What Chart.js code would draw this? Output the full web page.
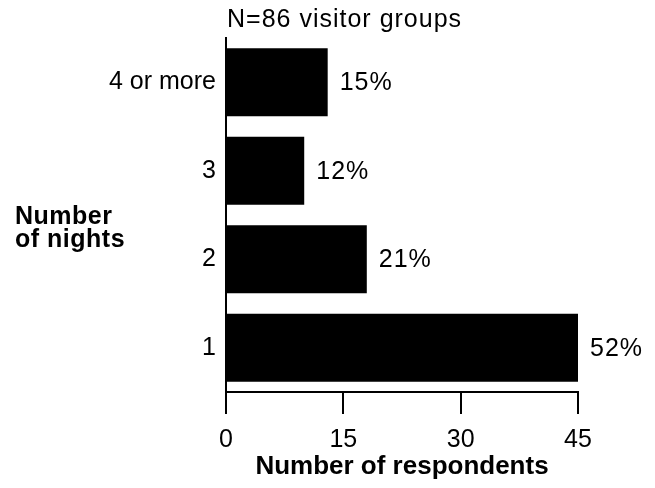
<!DOCTYPE html>
<html>
<head>
<meta charset="utf-8">
<script src="https://cdn.jsdelivr.net/npm/chart.js@4"></script>
<style>
  html, body { margin: 0; padding: 0; background: #fff; }
  canvas { display: block; }
</style>
</head>
<body>
<canvas id="chart1" width="655" height="488"></canvas>
<script>
var nights = ['4 or more', '3', '2', '1'];
var respondents = [13, 10, 18, 45];
var pctLabels = ['15%', '12%', '21%', '52%'];
var xTicks = [0, 15, 30, 45];

const fontFam = '"Liberation Sans", Arial, sans-serif';

const extraText = {
  id: 'extraText',
  afterDatasetsDraw(chart) {
    const {ctx, chartArea} = chart;
    const meta = chart.getDatasetMeta(0);
    ctx.save();
    ctx.fillStyle = '#000';
    ctx.font = '25px ' + fontFam;
    ctx.textBaseline = 'middle';
    ctx.textAlign = 'left';
    ctx.letterSpacing = '1px';
    meta.data.forEach((bar, i) => {
      ctx.fillText(pctLabels[i], bar.x + 12, bar.y + 1);
    });
    // subtitle above the plot
    ctx.fillText('N=86 visitor groups', chartArea.left + 1, 20);
    // y title, horizontal on the left
    ctx.font = 'bold 25px ' + fontFam;
    ctx.letterSpacing = '0.5px';
    ctx.fillText('Number', 15, 217);
    ctx.fillText('of nights', 15, 240);
    ctx.restore();
  }
};

new Chart('chart1', {
  type: 'bar',
  data: {
    labels: nights,
    datasets: [{
      data: respondents,
      backgroundColor: '#000',
      borderWidth: 0,
      categoryPercentage: 1,
      barPercentage: 0.77
    }]
  },
  options: {
    indexAxis: 'y',
    responsive: false,
    animation: false,
    devicePixelRatio: 1,
    layout: {
      padding: {left: 0, top: 38, right: 77, bottom: 0}
    },
    plugins: {
      legend: {display: false},
      tooltip: {enabled: false}
    },
    scales: {
      x: {
        min: 0,
        max: 45,
        afterFit(scale) { scale.height = 96; },
        afterBuildTicks(scale) { scale.ticks = xTicks.map(v => ({value: v})); },
        border: {display: true, color: '#000', width: 2},
        grid: {
          drawOnChartArea: false,
          drawTicks: true,
          tickLength: 22,
          color: '#000',
          lineWidth: 2
        },
        ticks: {
          color: '#000',
          padding: 11,
          maxRotation: 0,
          font: {family: fontFam, size: 25}
        },
        title: {
          display: true,
          text: 'Number of respondents',
          color: '#000',
          padding: {top: 0, bottom: 6},
          font: {family: fontFam, size: 26, weight: 'bold'}
        }
      },
      y: {
        afterFit(scale) { scale.width = 226; },
        border: {display: true, color: '#000', width: 2},
        grid: {display: false, drawTicks: false},
        ticks: {
          color: '#000',
          padding: 10,
          font: {family: fontFam, size: 25}
        }
      }
    }
  },
  plugins: [extraText]
});
</script>
</body>
</html>
